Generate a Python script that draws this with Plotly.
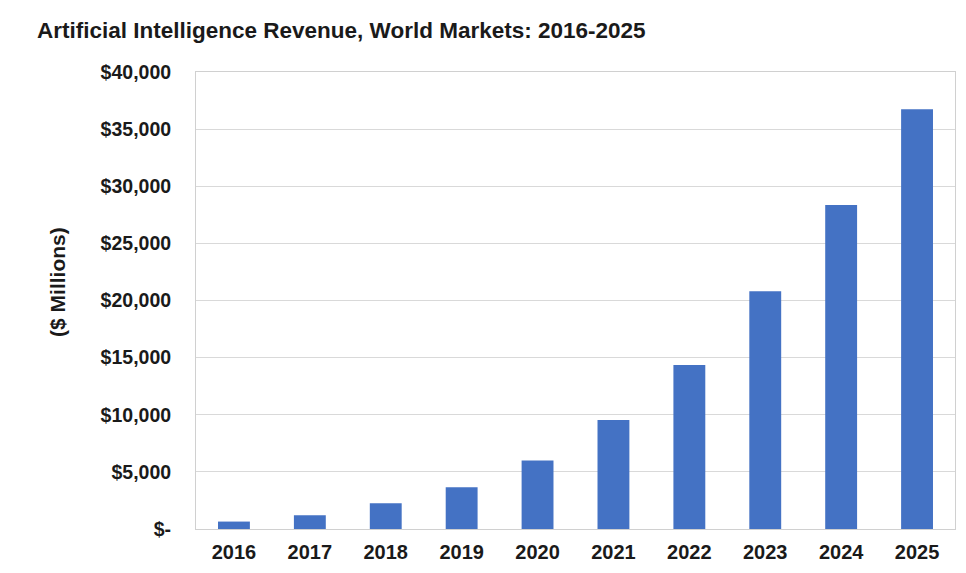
import plotly.graph_objects as go

years = ["2016", "2017", "2018", "2019", "2020", "2021", "2022", "2023", "2024", "2025"]
revenue = [650, 1200, 2250, 3650, 6000, 9550, 14350, 20800, 28350, 36750]
tick_vals = [0, 5000, 10000, 15000, 20000, 25000, 30000, 35000, 40000]
tick_text = ["$-", "$5,000", "$10,000", "$15,000", "$20,000", "$25,000", "$30,000", "$35,000", "$40,000"]

font_family = "Liberation Sans, Arial, sans-serif"
W, H = 958, 565

fig = go.Figure(
    go.Bar(x=years, y=revenue, marker=dict(color="#4472C4", line=dict(width=0)))
)

fig.update_layout(
    width=W,
    height=H,
    margin=dict(l=188, r=10, t=64, b=41),
    paper_bgcolor="white",
    plot_bgcolor="white",
    bargap=0.58,
    showlegend=False,
    font=dict(family=font_family, color="#1a1a1a"),
    title=dict(
        text="<b>Artificial Intelligence Revenue, World Markets: 2016-2025</b>",
        x=29 / W,
        xanchor="left",
        y=1 - 22 / H,
        yanchor="middle",
        font=dict(size=22.5, family=font_family, color="#1a1a1a"),
    ),
    annotations=[
        dict(
            text="<b>($ Millions)</b>",
            xref="paper",
            yref="paper",
            x=-0.1816,
            y=0.541,
            xanchor="center",
            yanchor="middle",
            textangle=-90,
            showarrow=False,
            font=dict(size=21, family=font_family, color="#1a1a1a"),
        )
    ],
)

fig.update_xaxes(
    type="category",
    showline=True,
    linecolor="#d0d0d0",
    linewidth=1,
    mirror=True,
    showgrid=False,
    ticks="",
    tickfont=dict(size=20, family=font_family, color="#1a1a1a", weight="bold"),
    ticklabelstandoff=5,
)

fig.update_yaxes(
    range=[0, 40000],
    tickvals=tick_vals,
    ticktext=tick_text,
    showline=True,
    linecolor="#d0d0d0",
    linewidth=1,
    mirror=True,
    showgrid=True,
    gridcolor="#d9d9d9",
    gridwidth=1,
    zeroline=False,
    ticks="",
    tickfont=dict(size=19.5, family=font_family, color="#1a1a1a", weight="bold"),
    ticklabelstandoff=20,
)

fig.write_html("out.html")
